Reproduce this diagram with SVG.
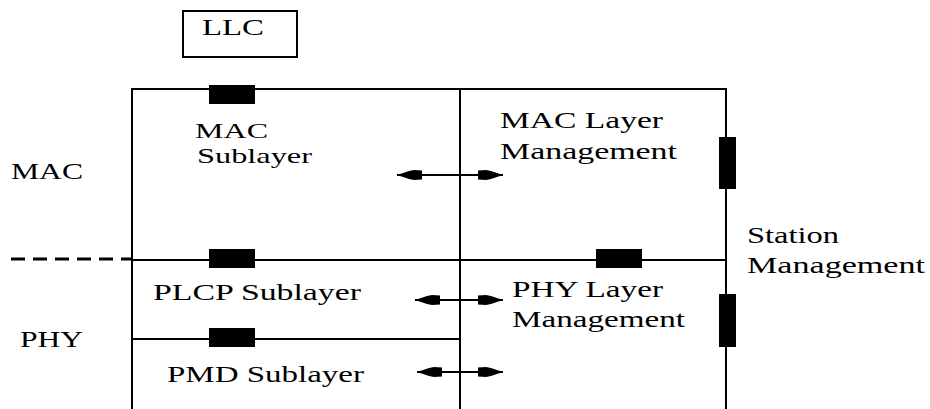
<svg xmlns="http://www.w3.org/2000/svg" width="930" height="409" viewBox="0 0 930 409">
  <style>
    .lbl { font-size: 24px; fill: #000; }
    .tight { font-size: 22px; }
    .ln { stroke: #000; stroke-width: 2; fill: none; }
    .dash { stroke: #000; stroke-width: 3; stroke-dasharray: 14 8; fill: none; }
    .sap { fill: #000; }
    .arr { stroke: #000; stroke-width: 2; fill: none; marker-start: url(#head); marker-end: url(#head); }
  </style>
  <defs>
    <marker id="head" viewBox="0 0 25 12" refX="25" refY="6" markerWidth="25" markerHeight="12" markerUnits="userSpaceOnUse" orient="auto-start-reverse">
      <path d="M0,1.5 L8,1 L13,2 L25,6 L13,10 L8,11 L0,10.5 Z" fill="#000"/>
    </marker>
  </defs>
  <rect width="930" height="409" fill="#fff"/>

  <!-- layer frame -->
  <g id="frame">
    <line class="ln" x1="131" y1="89" x2="727" y2="89"/>
    <line class="ln" x1="132" y1="89" x2="132" y2="409"/>
    <line class="ln" x1="460" y1="89" x2="460" y2="409"/>
    <line class="ln" x1="726" y1="89" x2="726" y2="409"/>
    <line class="ln" x1="132" y1="260" x2="726" y2="260"/>
    <line class="ln" x1="132" y1="339" x2="460" y2="339"/>
    <line class="dash" x1="11" y1="259" x2="132" y2="259"/>
  </g>

  <g font-family="Liberation Serif, DejaVu Serif, Times New Roman, serif">
    <g id="llc">
      <rect x="183" y="11" width="114" height="46" fill="#fff" stroke="#000" stroke-width="2"/>
      <text class="lbl" x="202" y="35" textLength="62" lengthAdjust="spacingAndGlyphs">LLC</text>
    </g>

    <g id="mac-label">
      <text class="lbl" x="11" y="179" textLength="72" lengthAdjust="spacingAndGlyphs">MAC</text>
    </g>
    <g id="phy-label">
      <text class="lbl" x="20" y="347" textLength="63" lengthAdjust="spacingAndGlyphs">PHY</text>
    </g>

    <g id="mac-sublayer">
      <text class="lbl tight" x="195" y="138" textLength="73" lengthAdjust="spacingAndGlyphs">MAC</text>
      <text class="lbl tight" x="197" y="163" textLength="115" lengthAdjust="spacingAndGlyphs">Sublayer</text>
    </g>

    <g id="mac-layer-management">
      <text class="lbl" x="500" y="128" textLength="163" lengthAdjust="spacingAndGlyphs">MAC Layer</text>
      <text class="lbl" x="500" y="159" textLength="177" lengthAdjust="spacingAndGlyphs">Management</text>
    </g>

    <g id="station-management">
      <text class="lbl" x="747" y="243" textLength="92" lengthAdjust="spacingAndGlyphs">Station</text>
      <text class="lbl" x="747" y="273" textLength="178" lengthAdjust="spacingAndGlyphs">Management</text>
    </g>

    <g id="plcp-sublayer">
      <text class="lbl" x="153" y="300" textLength="208" lengthAdjust="spacingAndGlyphs">PLCP Sublayer</text>
    </g>

    <g id="phy-layer-management">
      <text class="lbl" x="512" y="297" textLength="151" lengthAdjust="spacingAndGlyphs">PHY Layer</text>
      <text class="lbl" x="512" y="327" textLength="173" lengthAdjust="spacingAndGlyphs">Management</text>
    </g>

    <g id="pmd-sublayer">
      <text class="lbl" x="167" y="382" textLength="197" lengthAdjust="spacingAndGlyphs">PMD Sublayer</text>
    </g>
  </g>

  <!-- service access points and management exchanges -->
  <g id="connectors">
    <rect class="sap" x="209" y="85" width="46" height="19"/>
    <rect class="sap" x="209" y="249" width="46" height="19"/>
    <rect class="sap" x="209" y="328" width="46" height="19"/>
    <rect class="sap" x="596" y="249" width="46" height="19"/>
    <rect class="sap" x="719" y="137" width="17" height="52"/>
    <rect class="sap" x="719" y="294" width="17" height="53"/>
    <line class="arr" x1="397" y1="175" x2="503" y2="175"/>
    <line class="arr" x1="415" y1="300" x2="503" y2="300"/>
    <line class="arr" x1="417" y1="372" x2="503" y2="372"/>
  </g>
</svg>
